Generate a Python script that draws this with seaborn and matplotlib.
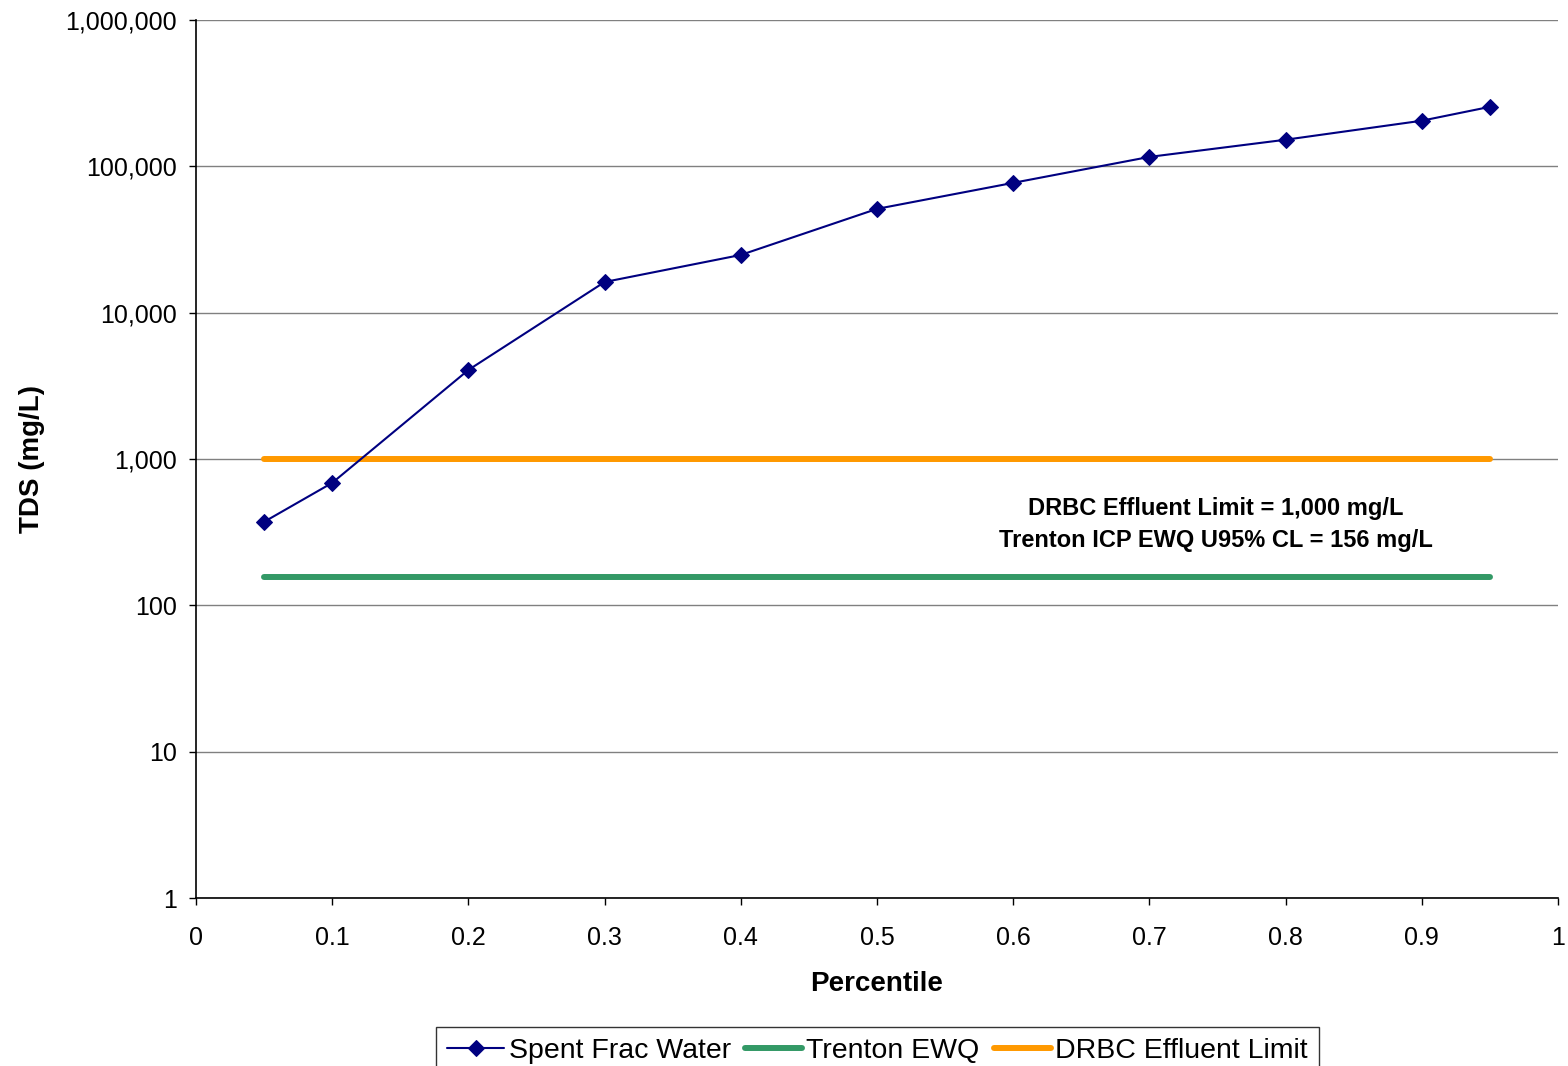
import matplotlib
matplotlib.use("Agg")
import matplotlib.pyplot as plt
import matplotlib.ticker as mticker
import seaborn as sns
import pandas as pd

percentile = [0.05, 0.1, 0.2, 0.3, 0.4, 0.5, 0.6, 0.7, 0.8, 0.9, 0.95]
spent_frac_tds = [372, 687, 4060, 16200, 24800, 51200, 77100, 116000, 152000, 205000, 255000]
line_x = [0.05, 0.95]
trenton_ewq = [156, 156]
drbc_limit = [1000, 1000]
x_ticks = [0, 0.1, 0.2, 0.3, 0.4, 0.5, 0.6, 0.7, 0.8, 0.9, 1]
y_ticks = [1, 10, 100, 1000, 10000, 100000, 1000000]

sns.set_style("white")
plt.rcParams['font.family'] = ['Liberation Sans', 'DejaVu Sans']
plt.rcParams['text.color'] = 'black'
plt.rcParams['axes.labelcolor'] = 'black'
plt.rcParams['xtick.color'] = 'black'
plt.rcParams['ytick.color'] = 'black'

fig = plt.figure(figsize=(15.68, 10.66), dpi=100)
ax = fig.add_axes([196/1568, 1-898/1066, (1558-196)/1568, (898-20)/1066])

df = pd.DataFrame({"Percentile": percentile, "TDS": spent_frac_tds})
sns.lineplot(data=df, x="Percentile", y="TDS", ax=ax, color="#000080", lw=1.5,
             marker="D", markersize=8, markeredgecolor="#000080", label="Spent Frac Water", zorder=5)
sns.lineplot(x=line_x, y=trenton_ewq, ax=ax, color="#339966", lw=4.3, solid_capstyle="round",
             label="Trenton EWQ", zorder=3)
sns.lineplot(x=line_x, y=drbc_limit, ax=ax, color="#FF9900", lw=4.3, solid_capstyle="round",
             label="DRBC Effluent Limit", zorder=3)

ax.set_yscale("log")
ax.set_xlim(0, 1)
ax.set_ylim(1, 1000000)
ax.set_xticks(x_ticks)
ax.set_xticklabels([("%g" % v) for v in x_ticks])
ax.set_yticks(y_ticks)
ax.yaxis.set_major_formatter(mticker.FuncFormatter(lambda v, p: f"{v:,.0f}"))
ax.yaxis.set_minor_locator(mticker.NullLocator())
ax.tick_params(axis="both", labelsize=18, length=5, width=1, color="black", direction="out",
               left=True, bottom=True, labelcolor="black")
ax.tick_params(axis="x", pad=15)
ax.tick_params(axis="y", pad=9)
ax.grid(axis="y", color="#808080", lw=1)
ax.set_axisbelow(True)
for s in ["top", "right"]:
    ax.spines[s].set_visible(False)
for s in ["left", "bottom"]:
    ax.spines[s].set_color("black")
    ax.spines[s].set_linewidth(1.2)

ax.set_xlabel("Percentile", fontsize=20, fontweight="bold", labelpad=15)
ax.set_ylabel("TDS (mg/L)", fontsize=20, fontweight="bold", labelpad=14)

ax.text(1216/1568, 1-509/1066, "DRBC Effluent Limit = 1,000 mg/L", transform=fig.transFigure,
        ha="center", va="center", fontsize=17, fontweight="bold")
ax.text(1216/1568, 1-540/1066, "Trenton ICP EWQ U95% CL = 156 mg/L", transform=fig.transFigure,
        ha="center", va="center", fontsize=17, fontweight="bold")

leg = ax.legend(loc="upper center", bbox_to_anchor=(877.5/1568, 1-1027/1066),
                bbox_transform=fig.transFigure, ncol=3, fontsize=20.5, frameon=True,
                fancybox=False, edgecolor="black", handlelength=2.0, handletextpad=0.15,
                columnspacing=0.5, borderpad=0.4, borderaxespad=0)
leg.get_frame().set_linewidth(1)

fig.savefig("out.png", dpi=100)
